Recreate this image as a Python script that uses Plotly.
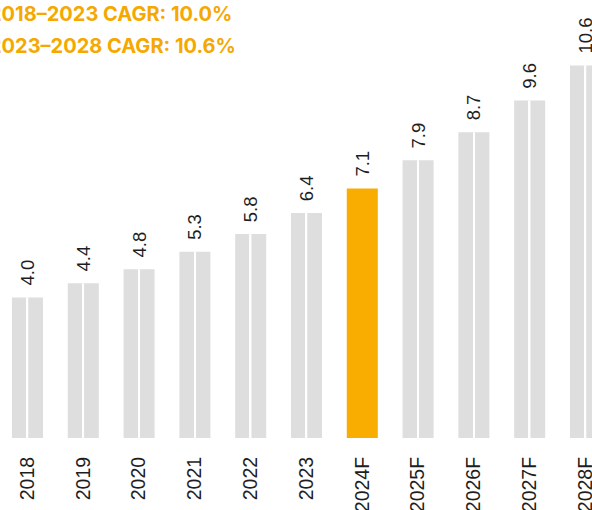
import plotly.graph_objects as go

categories = ["2018", "2019", "2020", "2021", "2022", "2023", "2024F", "2025F", "2026F", "2027F", "2028F"]
values = [4.0, 4.4, 4.8, 5.3, 5.8, 6.4, 7.1, 7.9, 8.7, 9.6, 10.6]
value_labels = ["4.0", "4.4", "4.8", "5.3", "5.8", "6.4", "7.1", "7.9", "8.7", "9.6", "10.6"]
highlight = "2024F"
cagr_lines = ["2018–2023 CAGR: 10.0%", "2023–2028 CAGR: 10.6%"]

GRAY = "#DEDEDE"
ORANGE = "#F9AD00"
TEXT = "#1E1E1E"

colors = [ORANGE if c == highlight else GRAY for c in categories]
divider_vals = [0 if c == highlight else v for c, v in zip(categories, values)]
# leading spaces give extra room between the bar top and its rotated label
bar_text = ["\u00a0\u2009" + t for t in value_labels]

fig = go.Figure()
fig.add_trace(go.Bar(x=categories, y=values, width=0.556, marker=dict(color=colors, line=dict(width=0)),
                     text=bar_text, textposition="outside", textangle=-90, cliponaxis=False,
                     constraintext="none",
                     textfont=dict(family="Liberation Sans, Arial", size=18.5, color=TEXT),
                     hoverinfo="skip"))
fig.add_trace(go.Bar(x=categories, y=divider_vals, width=0.028, marker=dict(color="white", line=dict(width=0)),
                     hoverinfo="skip"))

annotations = []
for i, line in enumerate(cagr_lines):
    annotations.append(dict(x=-12/592, y=1 - (14.5 + 31*i)/438, xref="paper", yref="paper", text=line,
                            showarrow=False, xanchor="left", yanchor="middle", borderpad=0,
                            font=dict(family="Inter", size=20, color="#F5A800", weight="bold")))

fig.update_layout(
    width=592, height=510,
    margin=dict(l=0, r=0, t=0, b=72, pad=0),
    barmode="overlay",
    showlegend=False,
    plot_bgcolor="white", paper_bgcolor="white",
    annotations=annotations,
    uniformtext=dict(mode=False),
    xaxis=dict(type="category", range=[-0.493, 10.117], showgrid=False, zeroline=False, showline=False,
               ticks="", tickangle=-90, ticklabelstandoff=14, automargin=False,
               tickfont=dict(family="Liberation Sans, Arial", size=19.5, color=TEXT)),
    yaxis=dict(range=[0, 12.46], visible=False, automargin=False),
)

fig.write_html("out.html", config={"displayModeBar": False},
               post_script="document.body.style.margin='0px';")
